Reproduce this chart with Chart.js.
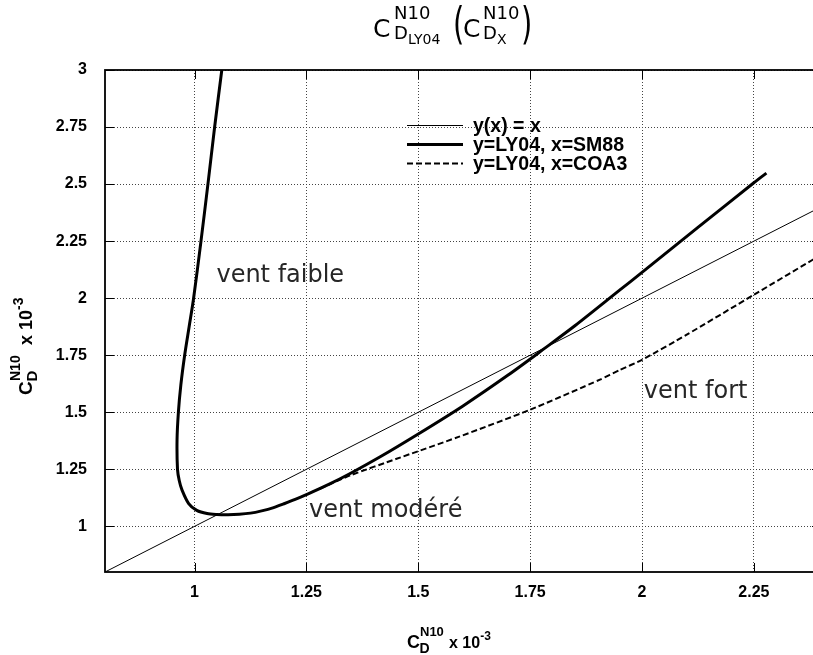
<!DOCTYPE html>
<html>
<head>
<meta charset="utf-8">
<script src="https://cdn.jsdelivr.net/npm/chart.js"></script>
<style>
html,body{margin:0;padding:0;background:#fff;overflow:hidden}
#wrap{width:813px;height:655px;overflow:hidden}
canvas{display:block}
</style>
</head>
<body>
<div id="wrap"><canvas id="chart" width="840" height="655"></canvas></div>
<script>
// axis ticks
const xTicks=[1,1.25,1.5,1.75,2,2.25]
const yTicks=[1,1.25,1.5,1.75,2,2.25,2.5,2.75,3]

// y(x) = x
const identX=[0.8,2.4]
const identY=[0.8,2.4]

// y=LY04, x=SM88
const sm88X=[1.061,1.045,1.030,1.0145,0.998,0.988,0.978,0.9695,0.964,0.961,0.962,0.966,0.972,0.987,1.005,1.028,1.05,1.075,1.10,1.125,1.15,1.175,1.2,1.225,1.25,1.3,1.35,1.415,1.5,1.6,1.7,1.783,1.85,1.95,2.0,2.125,2.25,2.278]
const sm88Y=[3.0,2.75,2.5,2.25,2.0,1.875,1.75,1.62,1.5,1.38,1.25,1.2,1.16,1.10,1.07,1.056,1.052,1.051,1.053,1.058,1.068,1.081,1.099,1.118,1.139,1.184,1.234,1.305,1.405,1.528,1.662,1.781,1.879,2.035,2.113,2.31,2.506,2.548]

// y=LY04, x=COA3
const coa3X=[1.28,1.35,1.45,1.59,1.75,1.906,1.95,2.0,2.1,2.25,2.4]
const coa3Y=[1.165,1.225,1.295,1.392,1.511,1.643,1.685,1.73,1.84,2.015,2.19]

const labels=["y(x) = x","y=LY04, x=SM88","y=LY04, x=COA3"]

const pts=(xs,ys)=>xs.map((x,i)=>({x:x,y:ys[i]}))

const bold=s=>"bold "+s+"px 'Liberation Sans', Arial, sans-serif"
const dv=s=>s+"px 'DejaVu Sans', sans-serif"

function rich(ctx,x,y,rot,parts){
  ctx.save()
  ctx.translate(x,y)
  ctx.rotate(rot)
  ctx.textBaseline="alphabetic"
  ctx.textAlign="left"
  let end=0
  parts.forEach(p=>{
    ctx.font=p.f
    const dx=p.dx==="after"?end:p.dx
    ctx.save()
    ctx.translate(dx,p.dy)
    if(p.sy)ctx.scale(1,p.sy)
    ctx.fillText(p.t,0,0)
    ctx.restore()
    end=dx+ctx.measureText(p.t).width
  })
  ctx.restore()
}

const xTitleParts=[
  {t:"C",f:bold(18),dx:0,dy:0},
  {t:"D",f:bold(14),dx:12.5,dy:5},
  {t:"N10",f:bold(13),dx:13,dy:-12},
  {t:"x 10",f:bold(16),dx:42,dy:0},
  {t:"-3",f:bold(12),dx:"after",dy:-8}
]
const yTitleParts=[
  {t:"C",f:bold(19),dx:0,dy:0},
  {t:"D",f:bold(15),dx:13.5,dy:5},
  {t:"N10",f:bold(14),dx:14,dy:-12},
  {t:"x 10",f:bold(18),dx:50,dy:0},
  {t:"-3",f:bold(14),dx:"after",dy:-9}
]

const titleParts=[
  {t:"C",f:dv(25),dx:373,dy:37},
  {t:"N10",f:dv(18),dx:394,dy:19},
  {t:"D",f:dv(18),dx:394,dy:39},
  {t:"LY04",f:dv(14),dx:408,dy:44},
  {t:"(",f:dv(29),dx:453,dy:39,sy:1.55},
  {t:"C",f:dv(25),dx:463,dy:37},
  {t:"N10",f:dv(18),dx:483,dy:19},
  {t:"D",f:dv(18),dx:483,dy:39},
  {t:"X",f:dv(14),dx:497,dy:44},
  {t:")",f:dv(29),dx:521,dy:39,sy:1.55}
]

const notes=[
  {t:"vent faible",x:1.049,y:2.072},
  {t:"vent modéré",x:1.256,y:1.039},
  {t:"vent fort",x:2.004,y:1.564}
]

const deco={
  id:"deco",
  afterDraw(chart){
    const ctx=chart.ctx,a=chart.chartArea,xs=chart.scales.x,ys=chart.scales.y
    ctx.save()
    ctx.strokeStyle="#000"
    ctx.lineWidth=1
    ctx.beginPath()
    xTicks.forEach(v=>{
      const p=Math.round(xs.getPixelForValue(v))+0.5
      ctx.moveTo(p,a.bottom);ctx.lineTo(p,a.bottom-9)
      ctx.moveTo(p,a.top);ctx.lineTo(p,a.top+9)
    })
    yTicks.forEach(v=>{
      const p=Math.round(ys.getPixelForValue(v))+0.5
      ctx.moveTo(a.left,p);ctx.lineTo(a.left+9,p)
      ctx.moveTo(a.right,p);ctx.lineTo(a.right-9,p)
    })
    ctx.stroke()
    ctx.lineWidth=1.8
    ctx.strokeRect(a.left,a.top,a.right-a.left,a.bottom-a.top)

    ctx.fillStyle="#000"
    rich(ctx,0,0,0,titleParts)
    rich(ctx,407,648,0,xTitleParts)
    rich(ctx,32,395,-Math.PI/2,yTitleParts)

    ctx.fillStyle="#262626"
    ctx.font=dv(24)
    ctx.textBaseline="alphabetic"
    notes.forEach(n=>ctx.fillText(n.t,xs.getPixelForValue(n.x),ys.getPixelForValue(n.y)))

    // legend
    chart.data.datasets.forEach((d,i)=>{
      const y=125.5+i*19
      ctx.strokeStyle="#000"
      ctx.lineWidth=d.borderWidth
      ctx.setLineDash(d.borderDash||[])
      ctx.beginPath();ctx.moveTo(407,y);ctx.lineTo(463,y);ctx.stroke()
      ctx.setLineDash([])
      ctx.fillStyle="#000"
      ctx.font=bold(19.5)
      ctx.textBaseline="middle"
      ctx.fillText(d.label,473,y+1)
    })
    ctx.restore()
  }
}

const tickFmt=v=>String(Math.round(v*100)/100)

new Chart(document.getElementById("chart"),{
  type:"scatter",
  data:{
    datasets:[
      {label:labels[0],data:pts(identX,identY),showLine:true,borderColor:"#000",borderWidth:1,pointRadius:0,tension:0},
      {label:labels[1],data:pts(sm88X,sm88Y),showLine:true,borderColor:"#000",borderWidth:3,pointRadius:0,tension:0.3},
      {label:labels[2],data:pts(coa3X,coa3Y),showLine:true,borderColor:"#000",borderWidth:2,borderDash:[6,3],pointRadius:0,tension:0.2}
    ]
  },
  options:{
    responsive:false,
    devicePixelRatio:1,
    animation:false,
    layout:{padding:{top:70,right:19,left:0,bottom:0}},
    plugins:{legend:{display:false},tooltip:{enabled:false},title:{display:false}},
    scales:{
      x:{
        type:"linear",min:0.8,max:2.4,
        afterBuildTicks:s=>{s.ticks=xTicks.map(v=>({value:v}))},
        afterFit:s=>{s.height=83},
        grid:{color:"#444",lineWidth:1,drawTicks:false},
        border:{display:false,dash:[1,2]},
        ticks:{color:"#000",font:{family:"'Liberation Sans', Arial, sans-serif",size:16,weight:"bold"},padding:11,callback:tickFmt,maxRotation:0}
      },
      y:{
        type:"linear",min:0.8,max:3,
        afterBuildTicks:s=>{s.ticks=yTicks.map(v=>({value:v}))},
        afterFit:s=>{s.width=105},
        grid:{color:"#444",lineWidth:1,drawTicks:false},
        border:{display:false,dash:[1,2]},
        ticks:{color:"#000",font:{family:"'Liberation Sans', Arial, sans-serif",size:16,weight:"bold"},padding:18,callback:tickFmt}
      }
    }
  },
  plugins:[deco]
})
</script>
</body>
</html>
